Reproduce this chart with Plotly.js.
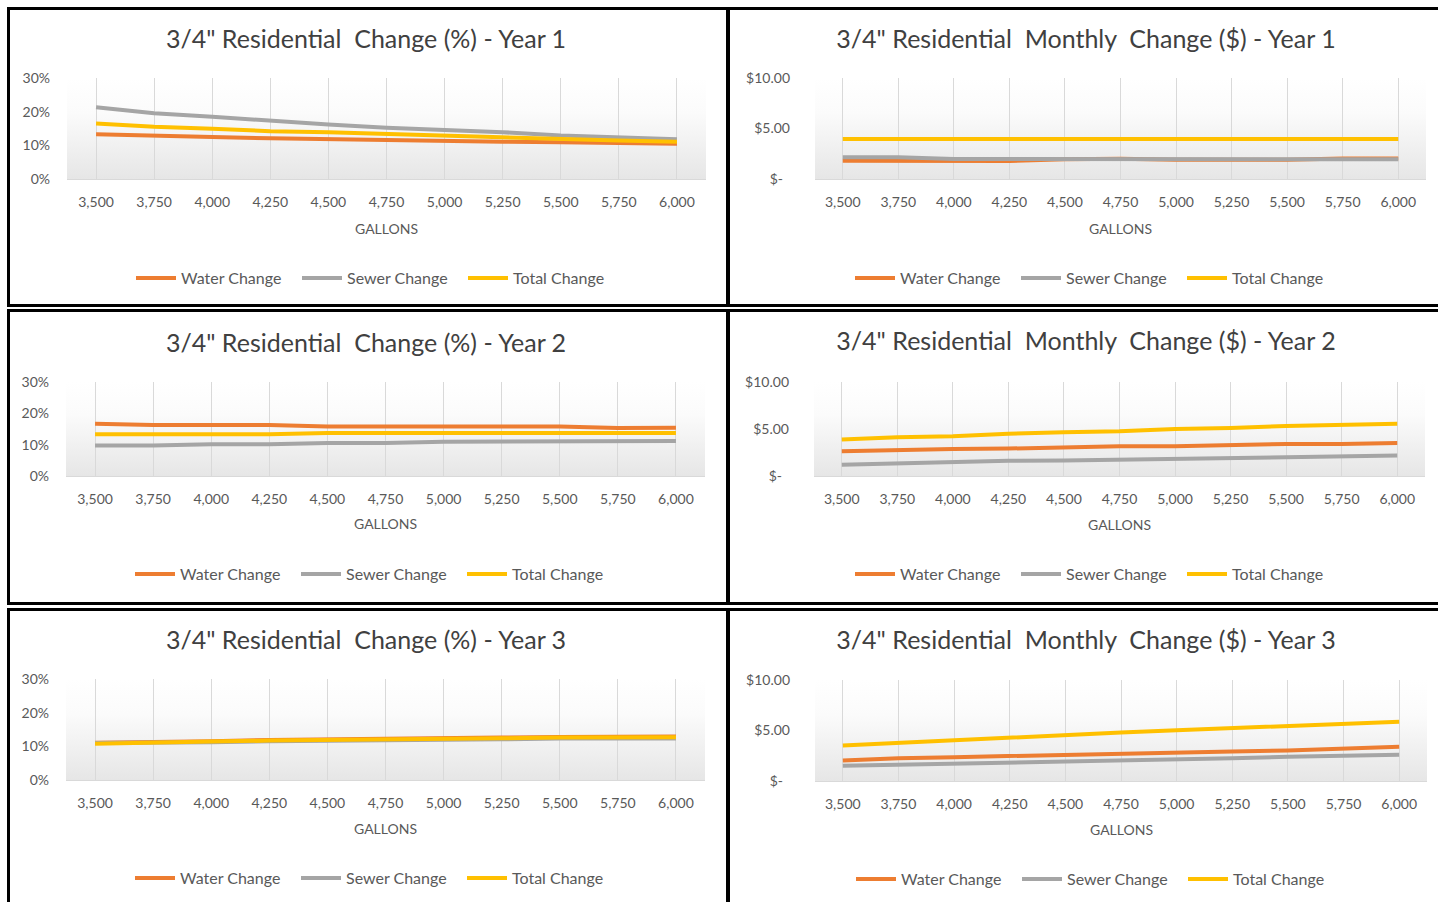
<!DOCTYPE html>
<html><head><meta charset="utf-8">
<script src="https://cdn.plot.ly/plotly-3.0.1.min.js"></script>
<style>
html,body{margin:0;padding:0;background:#fff;overflow:hidden;width:1438px;height:902px;position:relative;}
.panel{position:absolute;}
.frame{position:absolute;border:3px solid #000;box-sizing:border-box;pointer-events:none;}
</style></head><body>
<div id="p1" class="panel"></div>
<div id="p2" class="panel"></div>
<div id="p3" class="panel"></div>
<div id="p4" class="panel"></div>
<div id="p5" class="panel"></div>
<div id="p6" class="panel"></div>
<script>
// ---------- data ----------
const gallons = ['3,500','3,750','4,000','4,250','4,500','4,750','5,000','5,250','5,500','5,750','6,000'];
const seriesNames = ['Water Change','Sewer Change','Total Change'];

const waterPctY1 = [13.3, 12.8, 12.5, 12.1, 11.8, 11.5, 11.2, 11.1, 10.9, 10.6, 10.5];
const sewerPctY1 = [21.3, 19.5, 18.5, 17.2, 16.2, 15.2, 14.5, 13.9, 12.9, 12.3, 11.8];
const totalPctY1 = [16.5, 15.5, 14.9, 14.2, 13.9, 13.4, 13.0, 12.4, 11.8, 11.4, 11.1];

const waterUsdY1 = [1.80, 1.80, 1.79, 1.79, 1.96, 2.00, 1.90, 1.90, 1.90, 2.02, 2.03];
const sewerUsdY1 = [2.16, 2.16, 1.97, 1.97, 1.95, 1.96, 1.91, 1.91, 1.91, 1.95, 1.96];
const totalUsdY1 = [3.96, 3.96, 3.96, 3.96, 3.96, 3.96, 3.96, 3.96, 3.96, 3.96, 3.96];

const waterPctY2 = [16.7, 16.3, 16.3, 16.3, 15.8, 15.8, 15.8, 15.8, 15.8, 15.3, 15.4];
const sewerPctY2 = [9.7, 9.7, 10.1, 10.1, 10.5, 10.5, 10.9, 10.9, 11.2, 11.2, 11.2];
const totalPctY2 = [13.3, 13.3, 13.3, 13.3, 13.7, 13.7, 13.7, 13.7, 13.7, 13.7, 13.7];

const waterUsdY2 = [2.63, 2.78, 2.88, 2.92, 3.06, 3.16, 3.16, 3.30, 3.41, 3.41, 3.52];
const sewerUsdY2 = [1.19, 1.33, 1.43, 1.61, 1.64, 1.72, 1.86, 1.93, 1.96, 2.07, 2.17];
const totalUsdY2 = [3.87, 4.11, 4.22, 4.50, 4.65, 4.75, 5.00, 5.10, 5.32, 5.43, 5.57];

const waterPctY3 = [11.1, 11.2, 11.5, 11.9, 12.0, 12.3, 12.5, 12.6, 12.8, 12.8, 12.9];
const sewerPctY3 = [11.0, 11.0, 11.2, 11.5, 11.6, 11.8, 12.0, 12.1, 12.3, 12.3, 12.3];
const totalPctY3 = [10.8, 11.0, 11.4, 11.7, 11.8, 12.0, 12.3, 12.4, 12.6, 12.6, 12.7];

const waterUsdY3 = [2.03, 2.26, 2.36, 2.49, 2.59, 2.72, 2.82, 2.92, 3.02, 3.25, 3.39];
const sewerUsdY3 = [1.50, 1.60, 1.73, 1.83, 1.96, 2.06, 2.16, 2.26, 2.40, 2.49, 2.59];
const totalUsdY3 = [3.51, 3.78, 4.08, 4.34, 4.60, 4.80, 5.03, 5.23, 5.47, 5.66, 5.86];

const pctTickVals = [0, 10, 20, 30];
const pctTickText = ['0%', '10%', '20%', '30%'];
const usdTickVals = [0, 5, 10];
const usdTickText = ['$-\u2002', '$5.00', '$10.00'];

const titles = [
  '3/4" Residential  Change (%) - Year 1',
  '3/4" Residential  Monthly  Change ($) - Year 1',
  '3/4" Residential  Change (%) - Year 2',
  '3/4" Residential  Monthly  Change ($) - Year 2',
  '3/4" Residential  Change (%) - Year 3',
  '3/4" Residential  Monthly  Change ($) - Year 3'
];

// ---------- style ----------
const colors = ['#ED7D31', '#A5A5A5', '#FFC000'];
const gradSvg = "<svg xmlns='http://www.w3.org/2000/svg' width='100' height='100' preserveAspectRatio='none'>" +
  "<defs><linearGradient id='g' x1='0' y1='0' x2='0' y2='1'>" +
  "<stop offset='0' stop-color='#ffffff'/><stop offset='0.35' stop-color='#fbfbfb'/><stop offset='1' stop-color='#e6e6e6'/>" +
  "</linearGradient></defs><rect width='100' height='100' fill='url(#g)'/></svg>";
const gradURI = 'data:image/svg+xml;charset=utf-8,' + encodeURIComponent(gradSvg);

// page-pixel geometry of each panel: box, plot area, title, x-axis title, legend
const panels = [
  {id:'p1', box:[7,7,729,307],    plot:[67,78,706,179],    titleX:366,  titleY:39,  galY:228, legX:138, legY:278, kind:'pct', data:[waterPctY1, sewerPctY1, totalPctY1]},
  {id:'p2', box:[727,7,1445,307], plot:[815,78,1426,179],  titleX:1086, titleY:39,  galY:228, legX:857, legY:278, kind:'usd', data:[waterUsdY1, sewerUsdY1, totalUsdY1]},
  {id:'p3', box:[7,309,729,605],  plot:[66,382,705,476],   titleX:366,  titleY:343, galY:523, legX:137, legY:574, kind:'pct', data:[waterPctY2, sewerPctY2, totalPctY2]},
  {id:'p4', box:[727,309,1445,605],plot:[814,382,1425,476],titleX:1086, titleY:341, galY:524, legX:857, legY:574, kind:'usd', data:[waterUsdY2, sewerUsdY2, totalUsdY2]},
  {id:'p5', box:[7,608,729,910],  plot:[66,679,705,780],   titleX:366,  titleY:640, galY:828, legX:137, legY:878, kind:'pct', data:[waterPctY3, sewerPctY3, totalPctY3]},
  {id:'p6', box:[727,608,1445,910],plot:[815,680,1427,781],titleX:1086, titleY:640, galY:829, legX:858, legY:879, kind:'usd', data:[waterUsdY3, sewerUsdY3, totalUsdY3]}
];

panels.forEach((cfg, k) => {
  const el = document.getElementById(cfg.id);
  const W = cfg.box[2] - cfg.box[0], H = cfg.box[3] - cfg.box[1];
  el.style.left = cfg.box[0] + 'px';
  el.style.top = cfg.box[1] + 'px';
  el.style.width = W + 'px';
  el.style.height = H + 'px';
  const frame = document.createElement('div');
  frame.className = 'frame';
  frame.style.left = cfg.box[0] + 'px';
  frame.style.top = cfg.box[1] + 'px';
  frame.style.width = W + 'px';
  frame.style.height = H + 'px';
  document.body.appendChild(frame);

  const traces = cfg.data.map((vals, i) => ({
    type: 'scatter', mode: 'lines', x: gallons, y: vals, name: seriesNames[i],
    line: {color: colors[i], width: 4}, hoverinfo: 'skip'
  }));
  const isPct = cfg.kind === 'pct';
  const layout = {
    width: W, height: H,
    margin: {l: cfg.plot[0] - cfg.box[0], r: cfg.box[2] - cfg.plot[2], t: cfg.plot[1] - cfg.box[1], b: cfg.box[3] - cfg.plot[3], pad: 0},
    paper_bgcolor: 'rgba(0,0,0,0)', plot_bgcolor: 'rgba(0,0,0,0)',
    font: {family: 'Lato, "Open Sans", sans-serif', color: '#595959', size: 14},
    title: {text: titles[k], font: {size: 25, color: '#404040', family: 'Lato, sans-serif'},
      xref: 'container', x: (cfg.titleX - cfg.box[0]) / W, xanchor: 'center',
      yref: 'container', y: 1 - (cfg.titleY - cfg.box[1]) / H, yanchor: 'middle'},
    xaxis: {type: 'category', range: [-0.5, 10.5], showgrid: true, gridcolor: '#d9d9d9', gridwidth: 1,
      showline: true, linecolor: '#d9d9d9', linewidth: 1, ticks: '', zeroline: false, fixedrange: true,
      ticklabelstandoff: 10, tickfont: {size: 14, color: '#595959'}},
    yaxis: {range: isPct ? [0, 30] : [0, 10], tickvals: isPct ? pctTickVals : usdTickVals,
      ticktext: isPct ? pctTickText : usdTickText, showgrid: false, zeroline: false, showline: false,
      ticks: '', fixedrange: true, ticklabelstandoff: isPct ? 16 : 24, tickfont: {size: 14, color: '#595959'}},
    showlegend: true,
    legend: {orientation: 'h', xref: 'container', yref: 'container',
      x: (cfg.legX - 7 - cfg.box[0]) / W, xanchor: 'left',
      y: 1 - (cfg.legY - cfg.box[1]) / H, yanchor: 'middle',
      itemwidth: 40, entrywidth: 111, entrywidthmode: 'pixels', font: {size: 16, color: '#595959'},
      bgcolor: 'rgba(0,0,0,0)', borderwidth: 0},
    annotations: [{text: 'GALLONS', xref: 'paper', yref: 'paper', x: 0.5, y: 0,
      yshift: -(cfg.galY - cfg.plot[3]), xanchor: 'center', yanchor: 'middle', showarrow: false,
      font: {size: 14, color: '#595959'}}],
    images: [{source: gradURI, xref: 'paper', yref: 'paper', x: 0, y: 1, sizex: 1, sizey: 1,
      xanchor: 'left', yanchor: 'top', sizing: 'stretch', layer: 'below'}]
  };
  Plotly.newPlot(el, traces, layout, {staticPlot: true, displayModeBar: false});
});
</script>
</body></html>
